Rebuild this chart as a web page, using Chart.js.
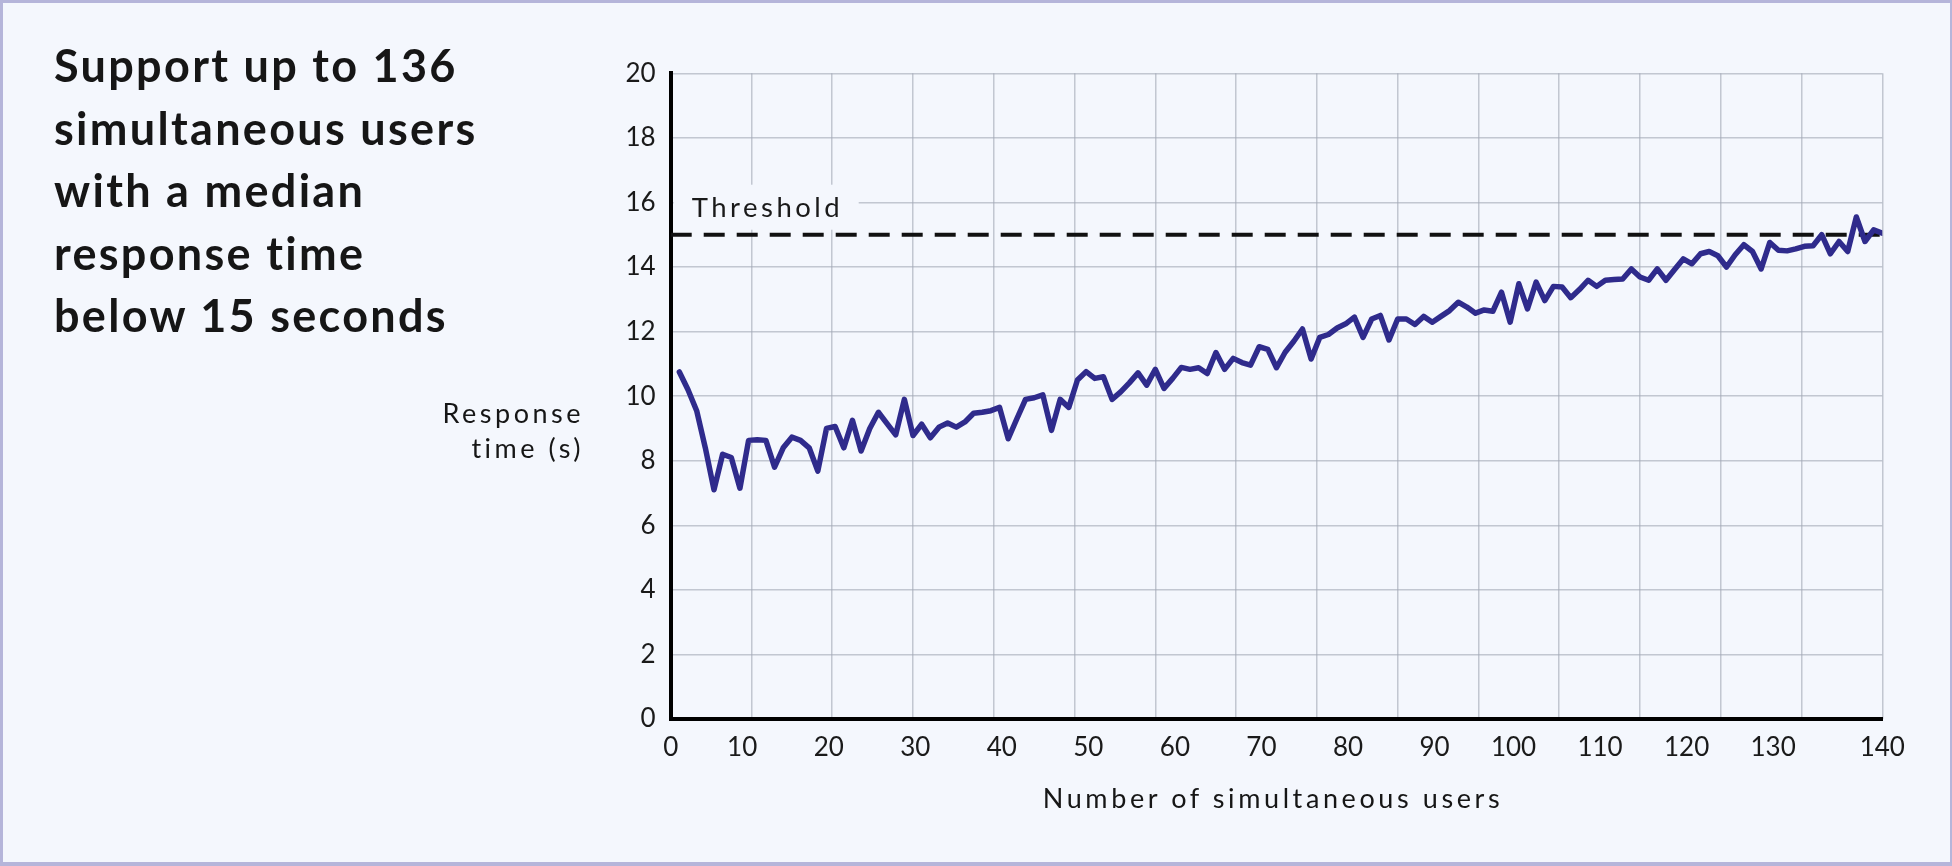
<!DOCTYPE html>
<html><head><meta charset="utf-8">
<script src="https://cdn.jsdelivr.net/npm/chart.js@4.4.1/dist/chart.umd.min.js"></script>
<style>
html,body{margin:0;padding:0;}
body{width:1952px;height:866px;position:relative;overflow:hidden;background:#f4f7fd;font-family:Lato,'Noto Sans',sans-serif;color:#161616;}
#frame{position:absolute;left:0;top:0;width:1952px;height:866px;box-sizing:border-box;border:3px solid #b5b5da;border-bottom-width:4px;border-right-width:2px;}
#c{position:absolute;left:0;top:0;}
#title{position:absolute;left:54px;top:34.3px;font-size:45px;line-height:62.5px;font-weight:700;letter-spacing:2.3px;white-space:nowrap;}
#ytitle{position:absolute;left:360px;width:224px;top:395px;text-align:right;font-size:27px;line-height:35px;letter-spacing:3.5px;white-space:nowrap;}
#xtitle{position:absolute;left:873px;width:800px;top:782px;text-align:center;font-size:27px;line-height:32px;letter-spacing:3.6px;white-space:nowrap;}
</style>
</head><body>
<div id="frame"></div>
<canvas id="c" width="1952" height="866"></canvas>
<div id="title">Support up to 136<br>simultaneous users<br>with a median<br>response time<br>below 15 seconds</div>
<div id="ytitle">Response<br>time (s)</div>
<div id="xtitle">Number of simultaneous users</div>
<script>
const users = [1,2,3,4,5,6,7,8,9,10,11,12,13,14,15,16,17,18,19,20,
21,22,23,24,25,26,27,28,29,30,31,32,33,34,35,36,37,38,39,40,
41,42,43,44,45,46,47,48,49,50,51,52,53,54,55,56,57,58,59,60,
61,62,63,64,65,66,67,68,69,70,71,72,73,74,75,76,77,78,79,80,
81,82,83,84,85,86,87,88,89,90,91,92,93,94,95,96,97,98,99,100,
101,102,103,104,105,106,107,108,109,110,111,112,113,114,115,116,117,118,119,120,
121,122,123,124,125,126,127,128,129,130,131,132,133,134,135,136,137,138,139,140];

const responseTime = [10.75,10.2,9.55,8.4,7.1,8.2,8.1,7.15,8.63,8.65,
8.63,7.8,8.4,8.73,8.63,8.4,7.68,9.0,9.06,8.4,
9.25,8.3,9.0,9.5,9.15,8.8,9.9,8.78,9.13,8.71,
9.04,9.17,9.04,9.2,9.47,9.5,9.55,9.65,8.68,9.3,
9.9,9.95,10.04,8.94,9.9,9.65,10.5,10.76,10.55,10.6,
9.9,10.13,10.41,10.72,10.34,10.83,10.24,10.55,10.89,10.83,
10.88,10.7,11.35,10.83,11.17,11.04,10.96,11.53,11.45,10.88,
11.36,11.7,12.08,11.15,11.82,11.91,12.11,12.24,12.45,11.82,
12.39,12.5,11.74,12.39,12.39,12.22,12.47,12.29,12.47,12.65,
12.91,12.76,12.57,12.67,12.63,13.22,12.29,13.48,12.7,13.53,
12.96,13.4,13.38,13.05,13.3,13.59,13.4,13.59,13.61,13.63,
13.94,13.69,13.59,13.94,13.59,13.92,14.25,14.1,14.41,14.48,
14.35,14.0,14.38,14.69,14.48,13.94,14.76,14.52,14.5,14.56,
14.64,14.66,15.0,14.41,14.79,14.48,15.55,14.79,15.15,15.05];

const thresholdValue = 15;
const thresholdLabel = 'Threshold';
const xTickValues = [0,10,20,30,40,50,60,70,80,90,100,110,120,130,140];
const xTickLabels = ['0','10','20','30','40','50','60','70','80','90','100','110','120','130','140'];
const yTickValues = [0,2,4,6,8,10,12,14,16,18,20];
const gridColumns = 15;

const X_MIN = xTickValues[0], X_MAX = xTickValues[xTickValues.length-1];
const BG = '#f4f7fd';
const GRID = 'rgba(160,167,180,0.6)';
const TEXT = '#1a1a1a';
const tickFont = {family:'Lato', size:26};

const thresholdLabelPlugin = {
  id:'thresholdLabel',
  beforeDatasetsDraw(chart){
    const {ctx, chartArea, scales} = chart;
    const py = scales.y.getPixelForValue(thresholdValue);
    ctx.save();
    ctx.fillStyle = BG;
    ctx.fillRect(chartArea.left + 3, py - 50, 185, 45);
    ctx.font = '27.5px Lato';
    try { ctx.letterSpacing = '3.5px'; } catch(e) {}
    ctx.fillStyle = TEXT;
    ctx.textAlign = 'left';
    ctx.textBaseline = 'alphabetic';
    ctx.fillText(thresholdLabel, chartArea.left + 21, py - 17.5);
    ctx.restore();
  }
};

function labelFor(v){ const i = xTickValues.indexOf(v); return i >= 0 ? xTickLabels[i] : ''; }

function build(){
  new Chart(document.getElementById('c'), {
    type:'line',
    data:{datasets:[
      {label:'Median response time', xAxisID:'x', yAxisID:'y',
       data: users.map((u,i)=>({x:u, y:responseTime[i]})),
       borderColor:'#2f2b8c', borderWidth:5.5, pointRadius:0, tension:0,
       borderJoinStyle:'round', borderCapStyle:'round', order:0},
      {label:thresholdLabel, xAxisID:'x', yAxisID:'y',
       data:[{x:X_MIN, y:thresholdValue},{x:X_MAX, y:thresholdValue}],
       borderColor:'#111111', borderWidth:4, borderDash:[21,12], pointRadius:0, order:1}
    ]},
    options:{
      responsive:false, animation:false,
      layout:{padding:{left:570.7, right:69.7, top:73.3, bottom:0}},
      plugins:{legend:{display:false}, tooltip:{enabled:false}},
      scales:{
        x:{type:'linear', axis:'x', position:'bottom', min:X_MIN, max:X_MAX,
           afterBuildTicks(s){ s.ticks = xTickValues.slice(1,-1).map(v=>({value:v})); },
           afterFit(s){ s.height = 147; },
           grid:{display:false},
           border:{color:'#000', width:4},
           ticks:{align:'end', autoSkip:false, maxRotation:0, padding:5, font:tickFont, color:TEXT,
                  callback:(v)=>labelFor(v)}},
        xEnds:{type:'linear', axis:'x', position:{y:0}, min:X_MIN, max:X_MAX,
           afterBuildTicks(s){ s.ticks = [X_MIN, X_MAX].map(v=>({value:v})); },
           grid:{display:false},
           border:{display:false},
           ticks:{autoSkip:false, maxRotation:0, padding:5, font:tickFont, color:TEXT,
                  callback:(v)=>labelFor(v)}},
        xGrid:{type:'linear', axis:'x', position:{y:20}, min:X_MIN, max:X_MAX,
           afterBuildTicks(s){ const t=[]; for(let i=0;i<=gridColumns;i++) t.push({value:X_MIN+(X_MAX-X_MIN)*i/gridColumns}); s.ticks=t; },
           grid:{color:GRID, lineWidth:1.5, drawTicks:false},
           border:{display:false},
           ticks:{display:false}},
        y:{type:'linear', position:'left', min:0, max:20,
           afterBuildTicks(s){ s.ticks = yTickValues.map(v=>({value:v})); },
           afterFit(s){ s.width = 100; },
           grid:{color:GRID, lineWidth:1.5, drawTicks:false},
           border:{color:'#000', width:4},
           ticks:{padding:15, font:tickFont, color:TEXT}}
      }
    },
    plugins:[thresholdLabelPlugin]
  });
}
Promise.all([document.fonts.load('26px Lato'), document.fonts.load('700 45px Lato')]).then(build, build);
</script>
</body></html>
